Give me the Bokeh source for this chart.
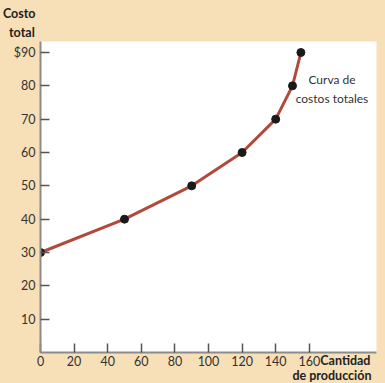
from bokeh.plotting import figure
from bokeh.models import Title, FixedTicker
from bokeh.embed import file_html
from bokeh.resources import INLINE

# Data
quantity = [0, 50, 90, 120, 140, 150, 155]
total_cost = [30, 40, 50, 60, 70, 80, 90]
x_ticks = [0, 20, 40, 60, 80, 100, 120, 140, 160]
y_ticks = [10, 20, 30, 40, 50, 60, 70, 80, 90]
y_tick_labels = {90: "$90"}

BG = "#F7DFB7"
LINE = "#B24A3B"
FONT = "Lato"
TXT = "#333333"

p = figure(width=385, height=383, x_range=(0, 200), y_range=(0, 93.3),
           output_backend="svg", toolbar_location=None,
           min_border_left=40, min_border_right=9, min_border_top=41, min_border_bottom=31,
           background_fill_color="white", border_fill_color=BG)
p.outline_line_color = None
p.xgrid.visible = False
p.ygrid.visible = False

for ax in (p.xaxis[0], p.yaxis[0]):
    ax.axis_line_color = "#8c8c8c"
    ax.axis_line_width = 2
    ax.major_tick_in = 9
    ax.major_tick_out = 0
    ax.major_tick_line_color = "#555555"
    ax.major_tick_line_width = 1.5
    ax.minor_tick_line_color = None
    ax.major_label_text_font = FONT
    ax.major_label_text_font_size = "12.5px"
    ax.major_label_text_color = TXT

p.xaxis[0].ticker = FixedTicker(ticks=x_ticks)
p.yaxis[0].ticker = FixedTicker(ticks=y_ticks)
p.yaxis[0].major_label_overrides = {k: v for k, v in y_tick_labels.items()}
p.xaxis[0].major_label_standoff = 3
p.yaxis[0].major_label_standoff = 5

p.line(quantity, total_cost, line_color=LINE, line_width=3)
p.scatter(quantity, total_cost, size=8, fill_color="#1a1a1a", line_color="#1a1a1a")

# Axis titles (outside the frame); leading no-break spaces right-align the shorter line
p.add_layout(Title(text="Costo\n\u00a0\u00a0total", align="right", offset=341, standoff=3,
                   vertical_align="bottom", text_font=FONT, text_font_size="12.5px",
                   text_font_style="bold", text_color="#222222", text_line_height=1.3), "above")
p.add_layout(Title(text="\u2003\u2003\u00a0\u00a0\u00a0Cantidad\nde producción", align="right", offset=5,
                   standoff=-32, vertical_align="top", text_font=FONT, text_font_size="12.5px",
                   text_font_style="bold", text_color="#222222"), "below")

p.text(x=[173.5], y=[79.0], text=["Curva de\ncostos totales"], text_align="center",
       text_baseline="middle", text_font={"value": FONT}, text_font_size="12px",
       text_color=TXT, text_line_height=1.25)

html = file_html(p, INLINE)
html = html.replace("<head>", "<head><style>html,body{background:%s;}</style>" % BG, 1)
open("out.html", "w").write(html)
